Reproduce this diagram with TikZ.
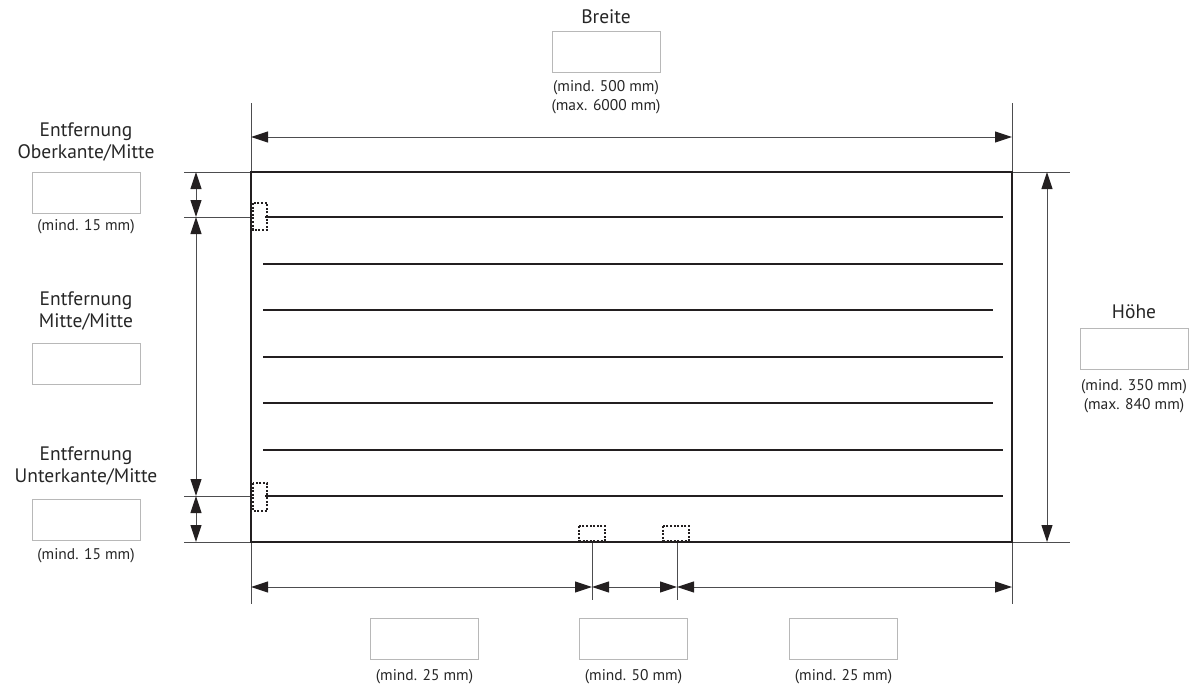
\documentclass[tikz,border=0pt]{standalone}
\usepackage{fontspec}
\setmainfont{PT Sans}
\usetikzlibrary{arrows.meta}
\definecolor{ink}{HTML}{231F20}
\definecolor{ext}{HTML}{4D4D4F}
\definecolor{boxc}{HTML}{B8B8B8}
\definecolor{txt}{HTML}{262626}
\begin{document}
\begin{tikzpicture}[x=1pt,y=-1pt,
  frame/.style={draw=ink,line width=1.8pt},
  tube/.style={draw=ink,line width=1.7pt},
  extline/.style={draw=ext,line width=1pt},
  dim/.style={draw=ext,line width=1pt,{Triangle[length=17pt,width=11pt,color=ink]}-{Triangle[length=17pt,width=11pt,color=ink]}},
  hole/.style={draw=ink,line width=2pt,dash pattern=on 2pt off 1.6pt},
  inbox/.style={draw=boxc,line width=1pt,minimum width=108pt,minimum height=41pt,inner sep=0pt},
  lbl/.style={font=\fontsize{19.5}{22}\selectfont,text=txt,align=center,inner sep=0pt},
  note/.style={font=\fontsize{15.5}{18.5}\selectfont,text=txt,align=center,inner sep=0pt}
]
\useasboundingbox (0,0) rectangle (1194,686);

% frame corners
\coordinate (TL) at (251,172);
\coordinate (TR) at (1012,172);
\coordinate (BL) at (251,542);
\coordinate (BR) at (1012,542);

% extension line ends
\coordinate (xLt) at (251,103);
\coordinate (xLb) at (251,604);
\coordinate (xRt) at (1012,103);
\coordinate (xRb) at (1012,604);
\coordinate (hTl) at (184,172);
\coordinate (hBl) at (184,542);
\coordinate (hTr) at (1070,172);
\coordinate (hBr) at (1070,542);
\coordinate (h1l) at (184,217);
\coordinate (h1r) at (251,217);
\coordinate (h7l) at (184,496);
\coordinate (h7r) at (251,496);
\coordinate (m1t) at (592,542);
\coordinate (m1b) at (592,600);
\coordinate (m2t) at (677,542);
\coordinate (m2b) at (677,600);

\draw[extline] (xLt) -- (xLb);
\draw[extline] (xRt) -- (xRb);
\draw[extline] (hTl) -- (TL);
\draw[extline] (hBl) -- (BL);
\draw[extline] (TR) -- (hTr);
\draw[extline] (BR) -- (hBr);
\draw[extline] (h1l) -- (h1r);
\draw[extline] (h7l) -- (h7r);
\draw[extline] (m1t) -- (m1b);
\draw[extline] (m2t) -- (m2b);

% tubes
\coordinate (t1a) at (265,217); \coordinate (t1b) at (1003,217);
\coordinate (t2a) at (263,264); \coordinate (t2b) at (1003,264);
\coordinate (t3a) at (263,310); \coordinate (t3b) at (993,310);
\coordinate (t4a) at (263,357); \coordinate (t4b) at (1003,357);
\coordinate (t5a) at (263,403); \coordinate (t5b) at (993,403);
\coordinate (t6a) at (263,450); \coordinate (t6b) at (1003,450);
\coordinate (t7a) at (265,496); \coordinate (t7b) at (1003,496);
\foreach \i in {1,...,7} {\draw[tube] (t\i a) -- (t\i b);}

% frame
\draw[frame] (TL) -- (TR) -- (BR) -- (BL) -- cycle;

% dotted holes
\draw[hole] (253,203) rectangle (267,230);
\draw[hole] (253,483) rectangle (267,511);
\draw[hole] (579,526) rectangle (605,540.5);
\draw[hole] (663,526) rectangle (689,540.5);

% dimension arrows
\coordinate (wA) at (251,137);  \coordinate (wB) at (1012,137);
\coordinate (hA) at (1047,172); \coordinate (hB) at (1047,542);
\coordinate (l0) at (196,172);  \coordinate (l1) at (196,217);
\coordinate (l2) at (196,496);  \coordinate (l3) at (196,542);
\coordinate (b0) at (251,587);  \coordinate (b1) at (592,587);
\coordinate (b2) at (677,587);  \coordinate (b3) at (1012,587);
\draw[dim] (wA) -- (wB);
\draw[dim] (hA) -- (hB);
\draw[dim] (l0) -- (l1);
\draw[dim] (l1) -- (l2);
\draw[dim] (l2) -- (l3);
\draw[dim] (b0) -- (b1);
\draw[dim] (b1) -- (b2);
\draw[dim] (b2) -- (b3);

% input boxes
\node[inbox] (bw) at (606,52) {};
\node[inbox] (bo) at (86,193) {};
\node[inbox] (bm) at (86,364) {};
\node[inbox] (bu) at (86,520) {};
\node[inbox] (bh) at (1134,349) {};
\node[inbox] (bb1) at (424.5,639) {};
\node[inbox] (bb2) at (633.5,639) {};
\node[inbox] (bb3) at (843.5,639) {};

% labels
\node[lbl] (lw) at (606,17) {Breite};
\node[lbl] (lo) at (86,142) {Entfernung\\Oberkante/Mitte};
\node[lbl] (lm) at (86,311) {Entfernung\\Mitte/Mitte};
\node[lbl] (lu) at (86,466) {Entfernung\\Unterkante/Mitte};
\node[lbl] (lh) at (1134,312) {Höhe};

% notes
\node[note] (nw) at (606,97) {(mind. 500 mm)\\(max. 6000 mm)};
\node[note] (no) at (86,227) {(mind. 15 mm)};
\node[note] (nu) at (86,556) {(mind. 15 mm)};
\node[note] (nh) at (1134,396) {(mind. 350 mm)\\(max. 840 mm)};
\node[note] (n1) at (424.5,677) {(mind. 25 mm)};
\node[note] (n2) at (633.5,677) {(mind. 50 mm)};
\node[note] (n3) at (843.5,677) {(mind. 25 mm)};
\end{tikzpicture}
\end{document}
